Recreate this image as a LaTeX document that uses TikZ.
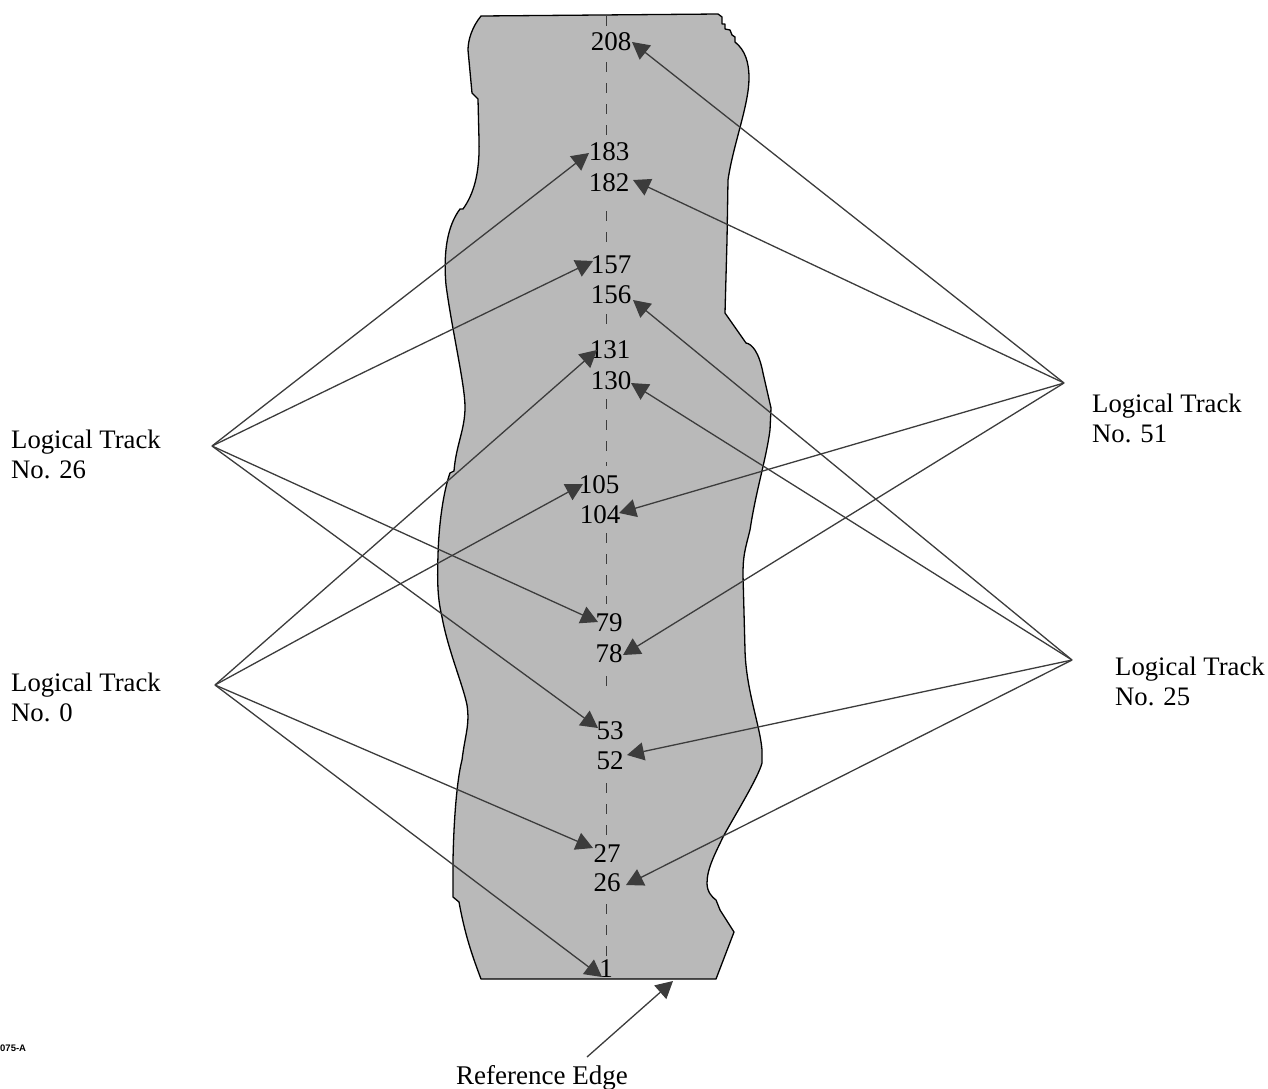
\documentclass[tikz,border=0pt]{standalone}
\usepackage{fontspec}
\setmainfont{Liberation Serif}
\newfontfamily\tagfont{Liberation Sans}
\usetikzlibrary{arrows.meta}
\definecolor{stripfill}{HTML}{B9B9B9}
\definecolor{inkgray}{HTML}{3C3C3C}
\tikzset{
  strip/.style={fill=stripfill,draw=black,line width=1.3pt,line join=round},
  num/.style={inner sep=0pt,font=\fontsize{27}{30}\selectfont,text=black},
  tracklabel/.style={inner sep=0pt,anchor=north west,align=left,font=\fontsize{26.7}{30}\selectfont},
  lead/.style={draw=inkgray,line width=1.3pt,-{Triangle[length=17pt,width=18pt,fill=inkgray]}},
  centerline/.style={draw=inkgray,line width=1pt,dash pattern=on 10pt off 11pt}
}
\begin{document}
\begin{tikzpicture}[x=1pt,y=-1pt]
\useasboundingbox (0,0) rectangle (1268,1088);
% tape strip
\path[strip] (481,16) -- (718,14) -- (722,17) -- (722,24) -- (725,24) -- (725,29) -- (730,30) -- (732,35) -- (735,37) -- (735,42)
  .. controls (745,50) and (749,62) .. (749,78)
  .. controls (749,105) and (733,145) .. (728,180)
  -- (727,240) -- (725,313) -- (746,343)
  .. controls (752,344) and (759,352) .. (763,373)
  -- (771,408) -- (770,430)
  .. controls (766,460) and (756,490) .. (750,530)
  .. controls (745,550) and (743,555) .. (743,575)
  -- (745,650)
  .. controls (746,690) and (760,725) .. (762,750)
  -- (762,763)
  .. controls (758,778) and (735,815) .. (723,837)
  .. controls (716,852) and (707,868) .. (707,883)
  .. controls (707,892) and (712,897) .. (716,900)
  -- (720,910) -- (734,932) -- (716,979) -- (481,979)
  .. controls (472,955) and (465,935) .. (459,902)
  -- (453,897) -- (453,860)
  .. controls (454,810) and (458,775) .. (462,760)
  .. controls (465,735) and (470,725) .. (467,705)
  .. controls (463,685) and (448,650) .. (442,617)
  .. controls (438,600) and (437,585) .. (438,555)
  .. controls (439,520) and (444,490) .. (450,473)
  -- (454,471)
  .. controls (456,445) and (465,430) .. (465,407)
  .. controls (465,385) and (452,330) .. (446,285)
  .. controls (443,250) and (448,225) .. (460,209)
  -- (463,209)
  .. controls (473,195) and (480,175) .. (479,140)
  -- (478,99) -- (472,93) -- (468,50)
  .. controls (468,40) and (472,27) .. (481,16) -- cycle;
% centre line, broken around the numbers
\draw[centerline] (606,16) -- (606,33);
\draw[centerline] (606,62) -- (606,142);
\draw[centerline] (606,211) -- (606,246);
\draw[centerline] (606,314) -- (606,335);
\draw[centerline] (606,399) -- (606,466);
\draw[centerline] (606,533) -- (606,604);
\draw[centerline] (606,676) -- (606,696);
\draw[centerline] (606,783) -- (606,835);
\draw[centerline] (606,904) -- (606,958);
% numbers
\node[num] (n208) at (611,41.5) {208};
\node[num] (n183) at (609,151.5) {183};
\node[num] (n182) at (609,182.5) {182};
\node[num] (n157) at (611,264.5) {157};
\node[num] (n156) at (611,294.5) {156};
\node[num] (n131) at (610,349.5) {131};
\node[num] (n130) at (611,380.5) {130};
\node[num] (n105) at (599,484.5) {105};
\node[num] (n104) at (600,514.5) {104};
\node[num] (n79) at (609,622.5) {79};
\node[num] (n78) at (609,653.5) {78};
\node[num] (n53) at (610,730.5) {53};
\node[num] (n52) at (610,760.5) {52};
\node[num] (n27) at (607,853.5) {27};
\node[num] (n26) at (607,882.5) {26};
\node[num] (n1) at (606,968.5) {1};
% labels
\node[tracklabel] (t26) at (11,430) {Logical Track\\No. 26};
\node[tracklabel] (t0) at (11,673) {Logical Track\\No. 0};
\node[tracklabel] (t51) at (1092,394) {Logical Track\\No. 51};
\node[tracklabel] (t25) at (1115,657) {Logical Track\\No. 25};
\node[inner sep=0pt,anchor=base] (refedge) at (542,1084) {\fontsize{27}{30}\selectfont Reference Edge};
\node[inner sep=0pt,anchor=west] (tag) at (0,1048) {\tagfont\bfseries\fontsize{9.5}{10}\selectfont 075-A};
% hubs and free ends
\coordinate (h26) at (212,446);
\coordinate (h0) at (215,685);
\coordinate (h51) at (1064,383);
\coordinate (h25) at (1072,660);
\coordinate (hr) at (587,1057);
\coordinate (a208) at (632,42);
\coordinate (a182) at (633,180);
\coordinate (a156) at (633,300);
\coordinate (a130) at (631,383);
\coordinate (a104) at (619,513);
\coordinate (a78) at (623,655);
\coordinate (a52) at (627,755);
\coordinate (a26) at (626,885);
\coordinate (a183) at (589,153);
\coordinate (a157) at (593,261);
\coordinate (a79) at (598,622);
\coordinate (a53) at (598,728);
\coordinate (a131) at (597,350);
\coordinate (a105) at (583,484);
\coordinate (a27) at (593,848);
\coordinate (a1) at (602,977);
\coordinate (aedge) at (673,981);
% leaders
\draw[lead] (h51) -- (a208);
\draw[lead] (h51) -- (a182);
\draw[lead] (h51) -- (a104);
\draw[lead] (h51) -- (a78);
\draw[lead] (h25) -- (a156);
\draw[lead] (h25) -- (a130);
\draw[lead] (h25) -- (a52);
\draw[lead] (h25) -- (a26);
\draw[lead] (h26) -- (a183);
\draw[lead] (h26) -- (a157);
\draw[lead] (h26) -- (a79);
\draw[lead] (h26) -- (a53);
\draw[lead] (h0) -- (a131);
\draw[lead] (h0) -- (a105);
\draw[lead] (h0) -- (a27);
\draw[lead] (h0) -- (a1);
\draw[lead] (hr) -- (aedge);
\end{tikzpicture}
\end{document}
